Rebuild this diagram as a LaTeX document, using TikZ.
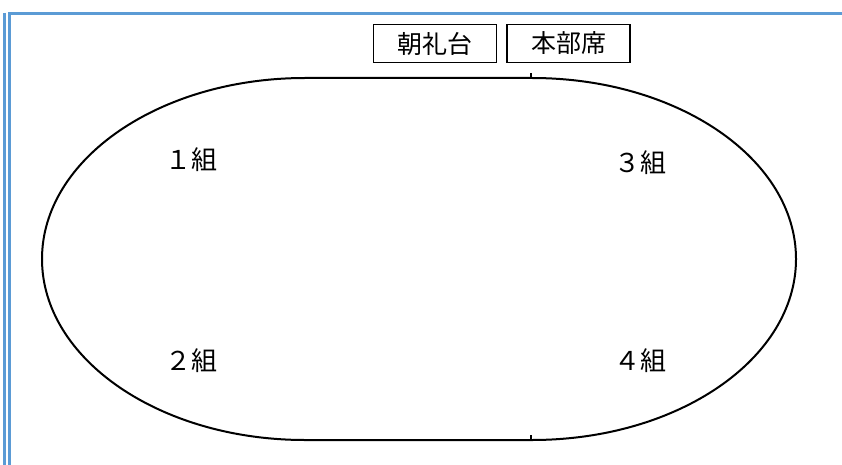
\documentclass[tikz,border=0pt]{standalone}
\usepackage{fontspec}
\newfontfamily\jpfont{Noto Sans CJK JP}
\usepackage{tikz}
\usetikzlibrary{positioning}
\definecolor{framebl}{RGB}{91,155,213}

\begin{document}
\begin{tikzpicture}[x=1pt,y=-1pt]
		\tikzstyle{frame}=[framebl,line width=2.2pt]
		\tikzstyle{track}=[line width=2pt]
		\tikzstyle{tick}=[line width=1.3pt]
		\tikzstyle{seat}=[draw,line width=1.8pt,minimum width=123pt,minimum height=38pt,inner sep=0pt,font=\jpfont\fontsize{25}{25}\selectfont]
		\tikzstyle{team}=[inner sep=0pt,font=\jpfont\fontsize{26}{26}\selectfont]
		
		\useasboundingbox (0,0) rectangle (842,465);
		
		% blue frame on the left
		\draw[frame] (4.5,13) -- (4.5,465);
		\draw[frame] (842,13.5) -- (9.5,13.5) -- (9.5,465);
		
		% stands
		\node[seat] (stage) at (435,43.5) {朝礼台};
		\node[seat] (hq) at (568.5,43.5) {本部席};
		
		% track
		\draw[track] (305,78) -- (532,78)
			arc[start angle=-90,end angle=90,x radius=264,y radius=181]
			-- (305,440)
			arc[start angle=90,end angle=270,x radius=263,y radius=181];
		\draw[tick] (531,73) -- (531,78);
		\draw[tick] (531,435) -- (531,440);
		
		% classes
		\node[team] (c1) at (191,160) {１組};
		\node[team] (c3) at (640,163) {３組};
		\node[team] (c2) at (191,361) {２組};
		\node[team] (c4) at (640,361) {４組};
		\end{tikzpicture}
\end{document}
